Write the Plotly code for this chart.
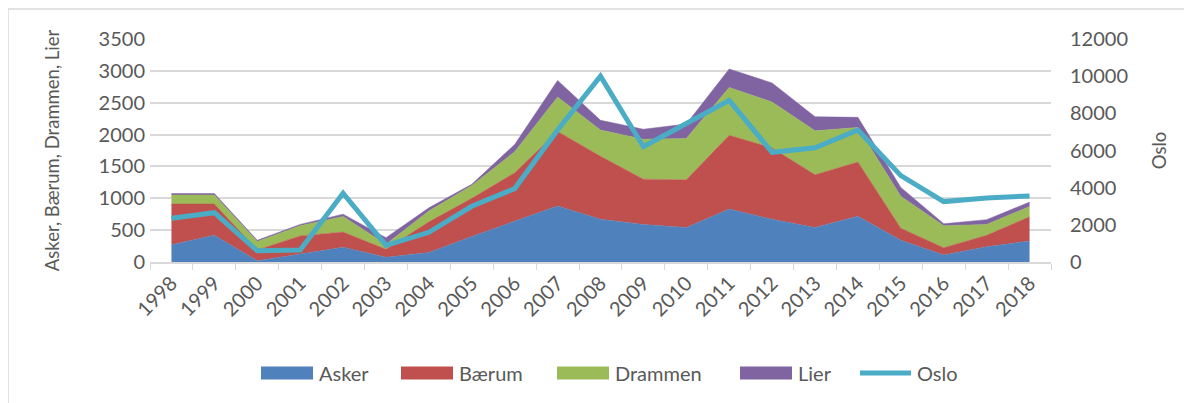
import plotly.graph_objects as go

years = [str(y) for y in range(1998, 2019)]
asker = [270, 420, 20, 120, 230, 75, 150, 400, 640, 880, 670, 590, 540, 830, 670, 540, 720, 340, 110, 240, 330]
baerum = [640, 490, 170, 290, 240, 125, 480, 600, 760, 1170, 990, 710, 750, 1160, 1120, 830, 850, 190, 115, 180, 380]
drammen = [140, 140, 130, 160, 245, 78, 170, 200, 330, 540, 410, 627, 650, 750, 720, 690, 540, 500, 345, 170, 160]
lier = [25, 25, 20, 20, 36, 104, 50, 20, 115, 260, 155, 157, 225, 290, 300, 220, 160, 140, 30, 75, 70]
oslo = [2350, 2650, 600, 650, 3700, 900, 1600, 3000, 3950, 7100, 10000, 6200, 7450, 8700, 5900, 6150, 7100, 4650, 3250, 3450, 3550]

series_names = ["Asker", "Bærum", "Drammen", "Lier"]
series_colors = ["#4F81BD", "#C0504D", "#9BBB59", "#8064A2"]
oslo_color = "#4BACC6"

FONT = "Lato"
TXT = "#595959"
GRID = "#D9D9D9"
FS = 20

# page body has an 8px margin: work in window pixels and shift by OFF
OFF = 8
W, H = 1192 - OFF, 403 - OFF
L, R, T, B = 150 - OFF, 1051 - OFF, 39 - OFF, 262 - OFF
def px_x(p):
    return (p - OFF - L) / (R - L)
def px_y(p):
    return (B - (p - OFF)) / (B - T)

fig = go.Figure()
for name, vals, col in zip(series_names, [asker, baerum, drammen, lier], series_colors):
    fig.add_trace(go.Scatter(x=years, y=vals, name=name, stackgroup="one", mode="lines",
                             line=dict(width=0.5, color=col), fillcolor=col, showlegend=False))
fig.add_trace(go.Scatter(x=years, y=oslo, name="Oslo", mode="lines", yaxis="y2",
                         line=dict(width=5, color=oslo_color), showlegend=False))

legend_y = 373
swatch_x = [261, 401, 557, 740]
shapes = [dict(type="rect", xref="paper", yref="paper",
               x0=px_x(8), x1=px_x(1300), y0=px_y(500), y1=px_y(9),
               line=dict(color=GRID, width=1.5), fillcolor="rgba(0,0,0,0)", layer="below")]
annotations = []
for name, col, sx in zip(series_names, series_colors, swatch_x):
    shapes.append(dict(type="rect", xref="paper", yref="paper",
                       x0=px_x(sx), x1=px_x(sx + 52), y0=px_y(legend_y + 6.5), y1=px_y(legend_y - 6.5),
                       line=dict(width=0), fillcolor=col))
    annotations.append(dict(xref="paper", yref="paper", x=px_x(sx + 56), y=px_y(legend_y),
                            xanchor="left", yanchor="middle", text=name, showarrow=False,
                            font=dict(family=FONT, size=FS, color=TXT)))
shapes.append(dict(type="line", xref="paper", yref="paper",
                   x0=px_x(860), x1=px_x(911), y0=px_y(legend_y), y1=px_y(legend_y),
                   line=dict(color=oslo_color, width=5)))
annotations.append(dict(xref="paper", yref="paper", x=px_x(915), y=px_y(legend_y),
                        xanchor="left", yanchor="middle", text="Oslo", showarrow=False,
                        font=dict(family=FONT, size=FS, color=TXT)))

fig.update_layout(
    width=W, height=H,
    margin=dict(l=L, r=W - R, t=T, b=H - B, autoexpand=False),
    paper_bgcolor="white", plot_bgcolor="white",
    font=dict(family=FONT, size=FS, color=TXT),
    showlegend=False,
    xaxis=dict(type="category", tickangle=-45, showgrid=False, showline=True, linecolor=GRID,
               linewidth=1.5, ticks="outside", tickson="boundaries", tickcolor=GRID, ticklen=6,
               tickfont=dict(size=FS, color=TXT), range=[-0.5, 20.5], automargin=False),
    yaxis=dict(range=[0, 3500], dtick=500, showgrid=True, gridcolor=GRID, gridwidth=1.5,
               zeroline=False, showline=False, ticks="", automargin=False, ticklabelstandoff=4,
               tickfont=dict(size=FS, color=TXT),
               title=dict(text="Asker, Bærum, Drammen, Lier", font=dict(size=18.5, color=TXT), standoff=34)),
    yaxis2=dict(range=[0, 12000], dtick=2000, tickformat="d", overlaying="y", side="right",
                showgrid=False, zeroline=False, showline=False, ticks="", automargin=False,
                ticklabelstandoff=18,
                tickfont=dict(size=FS, color=TXT),
                title=dict(text="Oslo", font=dict(size=18.5, color=TXT), standoff=26)),
    shapes=shapes,
    annotations=annotations,
)

fig.write_html("out.html")
